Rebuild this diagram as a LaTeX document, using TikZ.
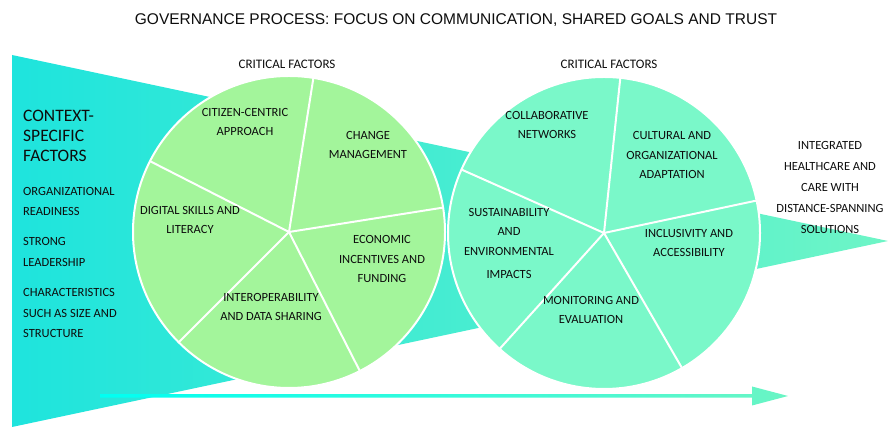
\documentclass[tikz,border=0pt]{standalone}
\usepackage{fontspec}
\setmainfont{Carlito}
\newfontfamily\titlefont{Liberation Sans}
\usetikzlibrary{calc}
\definecolor{leafgreen}{RGB}{163,245,155}
\definecolor{mintgreen}{RGB}{122,248,201}
\definecolor{funnelleft}{RGB}{30,228,221}
\definecolor{funnelright}{RGB}{110,245,198}
\definecolor{arrowleft}{RGB}{0,255,242}
\definecolor{arrowright}{RGB}{106,245,196}

\begin{document}
\begin{tikzpicture}[x=1pt,y=1pt]
	\tikzset{wedge/.style={draw=white,line width=2pt}}
	\tikzset{factor/.style={align=center,font=\fontsize{12.5}{19.5}\selectfont,text=black!95,inner sep=0pt}}
	\tikzset{context/.style={align=left,anchor=west,font=\fontsize{12.5}{20.5}\selectfont,text=black!95,inner sep=0pt}}
	\tikzset{heading/.style={font=\fontsize{13}{15}\selectfont,text=black!95,inner sep=0pt}}
	\useasboundingbox (0,0) rectangle (888,427);

	% funnel behind the circles
	\coordinate (ftop) at (12,372);
	\coordinate (fbot) at (12,0);
	\coordinate (ftip) at (888,186);
	\shade[left color=funnelleft,right color=funnelright] (ftop) -- (ftip) -- (fbot) -- cycle;

	% first circle
	\coordinate (c1) at (289,195);
	\fill[leafgreen] (c1) circle (156pt);
	\foreach \a in {9,81,...,297}
		\draw[wedge] (c1) -- ++(\a:156pt);
	\draw[wedge] (c1) circle (156pt);

	% second circle
	\coordinate (c2) at (604,194);
	\fill[mintgreen] (c2) circle (156pt);
	\foreach \a in {12,84,...,300}
		\draw[wedge] (c2) -- ++(\a:156pt);
	\draw[wedge] (c2) circle (156pt);

	\node[font=\titlefont\fontsize{15.5}{18}\selectfont,text=black!95] (title) at (456,407)
		{GOVERNANCE PROCESS: FOCUS ON COMMUNICATION, SHARED GOALS AND TRUST};
	\node[heading] (crit1) at (287,363) {CRITICAL FACTORS};
	\node[heading] (crit2) at (609,363) {CRITICAL FACTORS};

	% left side
	\node[context,font=\fontsize{17.5}{20}\selectfont] (context) at (23,291) {CONTEXT-\\SPECIFIC\\FACTORS};
	\node[context] (readiness) at (23,225.5) {ORGANIZATIONAL\\READINESS};
	\node[context] (leadership) at (23,175) {STRONG\\LEADERSHIP};
	\node[context] (size) at (23,114) {CHARACTERISTICS\\SUCH AS SIZE AND\\STRUCTURE};

	% factors in the first circle
	\node[factor] (citizen) at (245,305) {CITIZEN-CENTRIC\\APPROACH};
	\node[factor] (change) at (368,282) {CHANGE\\MANAGEMENT};
	\node[factor] (digital) at (190,207) {DIGITAL SKILLS AND\\LITERACY};
	\node[factor] (economic) at (382,168) {ECONOMIC\\INCENTIVES AND\\FUNDING};
	\node[factor] (interop) at (271,120) {INTEROPERABILITY\\AND DATA SHARING};

	% factors in the second circle
	\node[factor] (collab) at (547,302) {COLLABORATIVE\\NETWORKS};
	\node[factor] (cultural) at (672,272) {CULTURAL AND\\ORGANIZATIONAL\\ADAPTATION};
	\node[factor] (sustain) at (509,183.5) {SUSTAINABILITY\\AND\\ENVIRONMENTAL\\[4pt]IMPACTS};
	\node[factor] (inclusive) at (689,184) {INCLUSIVITY AND\\ACCESSIBILITY};
	\node[factor] (monitor) at (591,117) {MONITORING AND\\EVALUATION};

	% outcome
	\node[factor,font=\fontsize{12.5}{21.2}\selectfont] (outcome) at (830,239.5)
		{INTEGRATED\\HEALTHCARE AND\\CARE WITH\\DISTANCE-SPANNING\\SOLUTIONS};

	% arrow along the bottom
	\coordinate (astart) at (100,31);
	\coordinate (aend) at (788,31);
	\shade[left color=arrowleft,right color=arrowright] ($(astart)+(0,1.75)$) -- ($(aend)+(-36,1.75)$)
		-- ($(aend)+(-36,9.5)$) -- (aend) -- ($(aend)+(-36,-9.5)$) -- ($(aend)+(-36,-1.75)$)
		-- ($(astart)+(0,-1.75)$) -- cycle;
\end{tikzpicture}
\end{document}
